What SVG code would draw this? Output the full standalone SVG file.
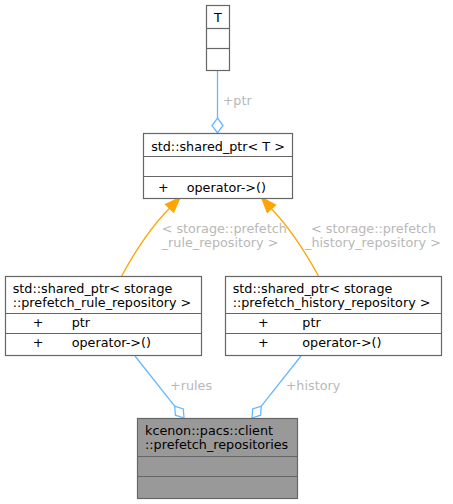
<svg xmlns="http://www.w3.org/2000/svg" width="453" height="504" viewBox="0 0 453 504">
<style>
text{font-family:"DejaVu Sans","Liberation Sans",sans-serif;font-size:12.75px;fill:#000}
.box{fill:#fff;stroke:#666;stroke-width:1.2}
.cur{fill:#999;stroke:#666;stroke-width:1.2}
.sep{stroke:#666;stroke-width:1.2}
.lbl{fill:#b8b8b8}
.blue{fill:none;stroke:#63b8ff;stroke-width:1.3}
.bluehead{fill:#fff;stroke:#63b8ff;stroke-width:1.3}
.orange{fill:none;stroke:#ffa500;stroke-width:1.3}
.orangehead{fill:#ffa500;stroke:#ffa500;stroke-width:1.3}
</style>
<rect width="453" height="504" fill="#fff"/>
<g id="edges">
<path class="blue" d="M217.5,70.5 V118"/>
<polygon class="bluehead" points="217.5,118 223,125.5 217.5,133 212,125.5"/>
<text class="lbl" x="222.7" y="104.5">+ptr</text>
<path class="orange" d="M121.7,276 C132.5,256 150,228 169.6,208.3"/>
<polygon class="orangehead" points="180,197.5 173.6,212.1 165.6,204.5"/>
<text class="lbl" x="161.7" y="233.3">&lt; storage::prefetch</text>
<text class="lbl" x="161.7" y="247.3">_rule_repository &gt;</text>
<path class="orange" d="M318.5,276 C307.5,256 290,228 271.4,208.7"/>
<polygon class="orangehead" points="261.5,197.5 275.5,205 267.3,212.4"/>
<text class="lbl" x="311" y="233.3">&lt; storage::prefetch</text>
<text class="lbl" x="305" y="247.3">_history_repository &gt;</text>
<path class="blue" d="M135,356 L174.7,406.2"/>
<polygon class="bluehead" points="184,418 175.4,415.2 174.7,406.2 183.3,409"/>
<text class="lbl" x="170" y="390">+rules</text>
<path class="blue" d="M301,356 L261.3,406.2"/>
<polygon class="bluehead" points="252,418 260.6,415.2 261.3,406.2 252.7,409"/>
<text class="lbl" x="285.7" y="390">+history</text>
</g>
<g id="node-T">
<rect class="box" x="206.5" y="5.5" width="23" height="65"/>
<line class="sep" x1="206.5" y1="28.5" x2="229.5" y2="28.5"/>
<line class="sep" x1="206.5" y1="48.5" x2="229.5" y2="48.5"/>
<text x="218" y="21.5" text-anchor="middle">T</text>
</g>
<g id="node-shared_ptr_T">
<rect class="box" x="143.5" y="133.5" width="149" height="65"/>
<line class="sep" x1="143.5" y1="156.5" x2="292.5" y2="156.5"/>
<line class="sep" x1="143.5" y1="176.5" x2="292.5" y2="176.5"/>
<text x="218" y="151" text-anchor="middle">std::shared_ptr&lt; T &gt;</text>
<text x="163.3" y="192" text-anchor="middle">+</text>
<text x="186.7" y="192">operator-&gt;()</text>
</g>
<g id="node-shared_ptr_rule">
<rect class="box" x="5.5" y="276.5" width="196" height="79"/>
<line class="sep" x1="5.5" y1="313.5" x2="201.5" y2="313.5"/>
<line class="sep" x1="5.5" y1="333.5" x2="201.5" y2="333.5"/>
<text x="12.7" y="292.5">std::shared_ptr&lt; storage</text>
<text x="12.7" y="306.8">::prefetch_rule_repository &gt;</text>
<text x="38" y="327" text-anchor="middle">+</text>
<text x="71.7" y="327">ptr</text>
<text x="38" y="347" text-anchor="middle">+</text>
<text x="71.7" y="347">operator-&gt;()</text>
</g>
<g id="node-shared_ptr_history">
<rect class="box" x="225.5" y="276.5" width="216" height="79"/>
<line class="sep" x1="225.5" y1="313.5" x2="441.5" y2="313.5"/>
<line class="sep" x1="225.5" y1="333.5" x2="441.5" y2="333.5"/>
<text x="232.7" y="292.5">std::shared_ptr&lt; storage</text>
<text x="232.7" y="306.8">::prefetch_history_repository &gt;</text>
<text x="263.3" y="327" text-anchor="middle">+</text>
<text x="302.3" y="327">ptr</text>
<text x="263.3" y="347" text-anchor="middle">+</text>
<text x="302.3" y="347">operator-&gt;()</text>
</g>
<g id="node-prefetch_repositories">
<rect class="cur" x="137.5" y="418.5" width="160" height="80"/>
<line class="sep" x1="137.5" y1="456.5" x2="297.5" y2="456.5"/>
<line class="sep" x1="137.5" y1="476.5" x2="297.5" y2="476.5"/>
<text x="145" y="434.5">kcenon::pacs::client</text>
<text x="145" y="449">::prefetch_repositories</text>
</g>
</svg>
